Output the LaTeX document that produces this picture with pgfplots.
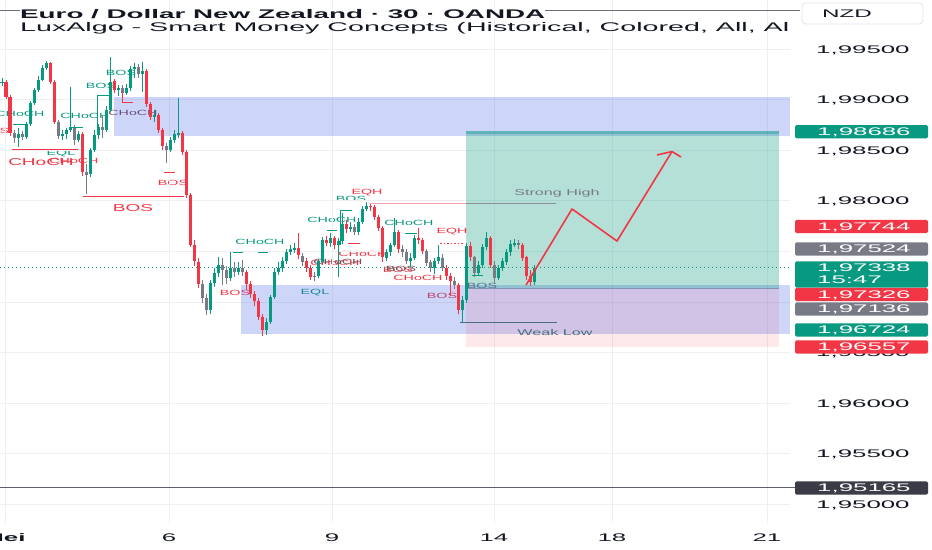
\documentclass[border=0pt]{standalone}
\usepackage{pgfplots}
\pgfplotsset{compat=1.18}
\usepackage{pgfplotstable}
\usepackage{graphicx}
\usepackage{fontspec}
\setmainfont{Liberation Sans}

\definecolor{tvgreen}{HTML}{089981}
\definecolor{tvred}{HTML}{F23645}
\definecolor{tvgray}{HTML}{787B86}
\definecolor{tvdark}{HTML}{131722}
\definecolor{zoneblue}{HTML}{3F5FE8}
\definecolor{gridc}{HTML}{EFEFF2}
\definecolor{smcdark}{HTML}{7A4A55}
\definecolor{weakc}{HTML}{4A6F7F}
\definecolor{pinkline}{HTML}{F5A3AB}
\definecolor{shline}{HTML}{8A8D96}
\definecolor{entryc}{HTML}{8093B5}
\definecolor{topline}{HTML}{6A6D78}
\definecolor{lowline}{HTML}{5D606B}
\definecolor{darkbox}{HTML}{3A3D47}
\definecolor{nzdbox}{HTML}{E0E3EB}
\definecolor{bosgray}{HTML}{5A6E8C}

\newcommand{\pf}{\fontsize{11bp}{13bp}\selectfont}
\newcommand{\smcS}{\fontsize{7.5bp}{9bp}\selectfont}
\newcommand{\smcL}{\fontsize{10bp}{12bp}\selectfont}
\newcommand{\sx}[1]{\scalebox{2.35}[1]{#1}}
\newcommand{\lab}[5]{\node[text=#3,inner sep=0pt,anchor=center,font=#5] at (#1,#2) {\scalebox{1.9}[1]{#4}};}
\newcommand{\ptick}[2]{\node[anchor=base west,inner sep=0pt,text=tvdark,font=\pf] at (816,{#1+4}) {\sx{#2}};}
\newcommand{\pricebox}[3]{%
  \fill[#2,rounded corners=1.5bp] (795,{#1-6.6}) rectangle (928,{#1+6.7});
  \node[anchor=base west,inner sep=0pt,text=white,font=\pf] at (817,{#1+4}) {\sx{#3}};}
\tikzset{px/.style={x=1bp,y=-1bp,yshift=523bp}}

\newcommand{\candles}[2]{%
  \addplot[only marks, mark=none, mark size=0pt, mark options={draw=none,fill=none}, forget plot,
    error bars/.cd, y dir=both, y explicit, error mark=none,
    error bar style={draw=#2, line width=0.9bp}]
    table[x=x, y expr={(\thisrow{h}+\thisrow{l})/2}, y error expr={(\thisrow{h}-\thisrow{l})/2}] {#1};
  \addplot[only marks, mark=none, mark size=0pt, mark options={draw=none,fill=none}, forget plot,
    error bars/.cd, y dir=both, y explicit, error mark=none,
    error bar style={draw=#2, line width=3bp}]
    table[x=x, y expr={(\thisrow{o}+\thisrow{c})/2}, y error expr={abs(\thisrow{o}-\thisrow{c})/2}] {#1};
}

\pgfplotstableread{
x o h l c
2 1.9917 1.9922 1.9914 1.9918
18 1.9862 1.9872 1.9853 1.9866
26 1.9863 1.9878 1.9861 1.9876
30 1.9876 1.9899 1.9874 1.9897
34 1.9897 1.9912 1.9895 1.9910
38 1.9910 1.9923 1.9908 1.9920
42 1.9920 1.9934 1.9918 1.9931
46 1.9931 1.9938 1.9929 1.9936
62 1.9864 1.9870 1.9860 1.9866
66 1.9866 1.9872 1.9861 1.9870
70 1.9870 1.9913 1.9868 1.9873
78 1.9860 1.9869 1.9858 1.9866
90 1.9826 1.9852 1.9824 1.9850
94 1.9850 1.9870 1.9848 1.9865
98 1.9865 1.9876 1.9861 1.9873
106 1.9870 1.9894 1.9868 1.9890
110 1.9890 1.9942 1.9888 1.9918
118 1.9910 1.9915 1.9904 1.9912
126 1.9907 1.9916 1.9905 1.9912
130 1.9912 1.9933 1.9909 1.9930
134 1.9930 1.9936 1.9922 1.9932
142 1.9925 1.9937 1.9908 1.9928
154 1.9883 1.9890 1.9878 1.9885
170 1.9850 1.9863 1.9848 1.9860
174 1.9860 1.9870 1.9857 1.9866
178 1.9866 1.9902 1.9862 1.9867
210 1.9692 1.9722 1.9688 1.9719
214 1.9719 1.9734 1.9715 1.9729
218 1.9729 1.9744 1.9725 1.9737
230 1.9724 1.9749 1.9721 1.9734
238 1.9730 1.9740 1.9727 1.9734
266 1.9672 1.9684 1.9667 1.9680
270 1.9680 1.9707 1.9678 1.9705
274 1.9705 1.9734 1.9703 1.9730
278 1.9730 1.9739 1.9727 1.9734
282 1.9734 1.9745 1.9730 1.9741
286 1.9741 1.9752 1.9738 1.9749
290 1.9749 1.9756 1.9746 1.9752
294 1.9752 1.9758 1.9748 1.9753
318 1.9726 1.9743 1.9724 1.9740
322 1.9740 1.9764 1.9738 1.9761
330 1.9758 1.9768 1.9754 1.9763
338 1.9756 1.9763 1.9725 1.9760
342 1.9760 1.9788 1.9757 1.9777
350 1.9772 1.9779 1.9769 1.9774
358 1.9769 1.9783 1.9766 1.9779
362 1.9779 1.9795 1.9777 1.9792
366 1.9792 1.9799 1.9790 1.9795
386 1.9744 1.9752 1.9740 1.9749
390 1.9749 1.9758 1.9746 1.9756
394 1.9756 1.9783 1.9754 1.9769
410 1.9741 1.9748 1.9735 1.9744
414 1.9744 1.9766 1.9742 1.9763
434 1.9734 1.9744 1.9728 1.9740
438 1.9740 1.9756 1.9738 1.9744
462 1.9692 1.9706 1.9679 1.9702
466 1.9702 1.9758 1.9699 1.9755
478 1.9729 1.9740 1.9726 1.9737
482 1.9737 1.9757 1.9734 1.9754
486 1.9754 1.9769 1.9751 1.9763
498 1.9724 1.9737 1.9722 1.9734
502 1.9734 1.9744 1.9731 1.9740
506 1.9740 1.9752 1.9737 1.9749
510 1.9749 1.9761 1.9746 1.9757
514 1.9757 1.9762 1.9754 1.9758
534 1.9720 1.9737 1.9717 1.9734
}\greenT

\pgfplotstableread{
x o h l c
6 1.9918 1.9920 1.9901 1.9903
10 1.9903 1.9905 1.9864 1.9867
50 1.9936 1.9937 1.9915 1.9917
54 1.9917 1.9919 1.9876 1.9878
82 1.9866 1.9868 1.9825 1.9829
114 1.9918 1.9920 1.9907 1.9910
146 1.9928 1.9930 1.9893 1.9896
150 1.9896 1.9898 1.9880 1.9883
158 1.9885 1.9887 1.9867 1.9870
162 1.9870 1.9872 1.9850 1.9854
182 1.9867 1.9869 1.9845 1.9848
186 1.9848 1.9850 1.9803 1.9806
190 1.9806 1.9808 1.9754 1.9756
194 1.9756 1.9761 1.9736 1.9740
198 1.9740 1.9744 1.9714 1.9718
246 1.9730 1.9732 1.9712 1.9718
250 1.9718 1.9721 1.9704 1.9708
254 1.9708 1.9711 1.9696 1.9701
258 1.9701 1.9704 1.9682 1.9685
262 1.9685 1.9688 1.9666 1.9672
298 1.9753 1.9768 1.9742 1.9746
306 1.9740 1.9743 1.9730 1.9734
310 1.9734 1.9737 1.9722 1.9725
326 1.9761 1.9765 1.9755 1.9758
334 1.9763 1.9765 1.9752 1.9756
346 1.9777 1.9781 1.9768 1.9772
370 1.9795 1.9798 1.9790 1.9794
374 1.9794 1.9796 1.9781 1.9784
378 1.9784 1.9786 1.9770 1.9773
382 1.9773 1.9775 1.9739 1.9744
398 1.9769 1.9771 1.9748 1.9752
418 1.9763 1.9773 1.9757 1.9761
422 1.9761 1.9763 1.9747 1.9750
446 1.9734 1.9737 1.9722 1.9726
450 1.9726 1.9729 1.9706 1.9721
458 1.9717 1.9719 1.9688 1.9692
470 1.9755 1.9759 1.9740 1.9744
490 1.9763 1.9765 1.9734 1.9737
522 1.9756 1.9758 1.9740 1.9744
526 1.9744 1.9746 1.9722 1.9726
530 1.9726 1.9732 1.9716 1.9720
}\redT

\pgfplotstableread{
x o h l c
14 1.9867 1.9870 1.9857 1.9862
22 1.9866 1.9869 1.9860 1.9863
58 1.9878 1.9880 1.9861 1.9864
74 1.9873 1.9875 1.9855 1.9860
86 1.9829 1.9836 1.9807 1.9826
102 1.9873 1.9885 1.9862 1.9870
122 1.9912 1.9915 1.9903 1.9907
138 1.9932 1.9935 1.9921 1.9925
166 1.9854 1.9857 1.9837 1.9850
202 1.9718 1.9722 1.9699 1.9704
206 1.9704 1.9708 1.9687 1.9692
222 1.9737 1.9744 1.9717 1.9732
226 1.9732 1.9736 1.9718 1.9724
234 1.9734 1.9740 1.9725 1.9730
242 1.9734 1.9742 1.9726 1.9730
302 1.9746 1.9748 1.9736 1.9740
314 1.9725 1.9730 1.9721 1.9726
354 1.9774 1.9777 1.9766 1.9769
402 1.9752 1.9756 1.9745 1.9749
406 1.9749 1.9752 1.9738 1.9741
426 1.9750 1.9752 1.9736 1.9739
430 1.9739 1.9742 1.9730 1.9734
442 1.9744 1.9747 1.9731 1.9734
454 1.9721 1.9725 1.9713 1.9717
474 1.9744 1.9746 1.9725 1.9729
494 1.9737 1.9740 1.9719 1.9724
518 1.9758 1.9761 1.9752 1.9756
}\grayT

\begin{document}
\begin{tikzpicture}
\path[use as bounding box, fill=white] (0,-27bp) rectangle (932bp,523bp);

% SMC labels, under the candles
\begin{scope}[px]
\lab{20}{114}{tvgreen}{CHoCH}{\smcS}
\lab{-6}{131}{tvred}{BOS}{\smcS}
\lab{61}{154}{tvgreen}{EQL}{\smcS}
\lab{41}{162}{tvred}{CHoCH}{\smcL}
\lab{74}{161}{tvred}{CHoCH}{\smcS}
\lab{85}{116}{tvgreen}{CHoCH}{\smcS}
\lab{133}{113}{smcdark}{CHoCH}{\smcS}
\lab{121}{73}{tvgreen}{BOS}{\smcS}
\lab{101}{86}{tvgreen}{BOS}{\smcS}
\lab{133}{208}{tvred}{BOS}{\smcL}
\lab{173}{183}{tvred}{BOS}{\smcS}
\lab{260}{242}{tvgreen}{CHoCH}{\smcS}
\lab{235}{293}{tvred}{BOS}{\smcS}
\lab{315}{293}{tvgreen}{EQL}{\smcS}
\lab{332}{220}{tvgreen}{CHoCH}{\smcS}
\lab{351}{199}{tvgreen}{BOS}{\smcS}
\lab{367}{193}{tvred}{EQH}{\smcS}
\lab{409}{223}{tvgreen}{CHoCH}{\smcS}
\lab{363}{254}{tvred}{CHoCH}{\smcS}
\lab{335}{263}{tvred}{CHoCH}{\smcS}
\lab{338}{262}{smcdark}{CHoCH}{\smcS}
\lab{398}{270}{tvred}{BOS}{\smcS}
\lab{401}{269}{smcdark}{BOS}{\smcS}
\lab{418}{278}{tvred}{CHoCH}{\smcS}
\lab{452}{232}{tvred}{EQH}{\smcS}
\lab{442}{296}{tvred}{BOS}{\smcS}
\end{scope}

\begin{axis}[
  at={(0,0)}, anchor=south west,
  scale only axis, width=790bp, height=523bp,
  xmin=0, xmax=790, ymin=1.94814, ymax=1.999855,
  clip=false,
  axis line style={draw=none},
  major tick length=0pt,
  xtick={5,169,332,494,612,767},
  ytick={1.95,1.955,1.96,1.965,1.97,1.975,1.98,1.985,1.99,1.995},
  xticklabels={}, yticklabels={},
  xmajorgrids, ymajorgrids,
  major grid style={draw=gridc, line width=0.8bp},
]
% order blocks and position tool
\fill[zoneblue, fill opacity=0.26] (axis cs:114,1.98641) rectangle (axis cs:790,1.99026);
\fill[zoneblue, fill opacity=0.26] (axis cs:241,1.96683) rectangle (axis cs:790,1.97167);
\fill[tvgreen, fill opacity=0.3] (axis cs:466,1.97136) rectangle (axis cs:779,1.98686);
\fill[tvred, fill opacity=0.11] (axis cs:466,1.96557) rectangle (axis cs:779,1.97136);
\draw[tvgreen, draw opacity=0.35, line width=2.2bp] (axis cs:466,1.98675) -- (axis cs:779,1.98675);
\draw[entryc, line width=1.1bp] (axis cs:466,1.97136) -- (axis cs:779,1.97136);
\draw[tvgreen, line width=0.8bp, dash pattern=on 1bp off 3bp] (axis cs:0,1.97338) -- (axis cs:790,1.97338);
\draw[lowline, line width=1bp] (axis cs:0,1.95165) -- (axis cs:795,1.95165);

% candles
\candles{\grayT}{tvgray}
\candles{\redT}{tvred}
\candles{\greenT}{tvgreen}

% structure lines
\draw[tvred, line width=0.9bp] (axis cs:12,1.98512) -- (axis cs:78,1.98512);
\draw[tvred, line width=0.9bp] (axis cs:83,1.98047) -- (axis cs:184,1.98047);
\draw[tvred, line width=0.9bp] (axis cs:164,1.98285) -- (axis cs:175,1.98285);
\draw[tvred, line width=0.9bp] (axis cs:122,1.99076) -- (axis cs:122,1.98977) -- (axis cs:133,1.98977);
\draw[tvgreen, line width=0.9bp] (axis cs:13,1.98759) -- (axis cs:27,1.98759);
\draw[tvgreen, line width=0.9bp] (axis cs:72,1.98730) -- (axis cs:83,1.98730);
\draw[tvgreen, line width=0.9bp] (axis cs:97,1.98730) -- (axis cs:97,1.99046) -- (axis cs:110,1.99046);
\draw[tvgreen, line width=0.9bp] (axis cs:233,1.97494) -- (axis cs:243,1.97494);
\draw[tvgreen, line width=0.9bp] (axis cs:258,1.97494) -- (axis cs:268,1.97494);
\draw[tvgreen, line width=0.9bp] (axis cs:327,1.97711) -- (axis cs:337,1.97711);
\draw[tvgreen, line width=0.9bp] (axis cs:340,1.97563) -- (axis cs:340,1.97909) -- (axis cs:352,1.97909);
\draw[tvgreen, line width=0.9bp] (axis cs:405,1.97682) -- (axis cs:417,1.97682);
\draw[tvgreen, line width=0.9bp] (axis cs:472,1.97266) -- (axis cs:483,1.97266);
\draw[tvred, line width=0.9bp] (axis cs:348,1.97583) -- (axis cs:360,1.97583);
\draw[tvred, line width=0.9bp, dash pattern=on 1.5bp off 2bp] (axis cs:440,1.97583) -- (axis cs:463,1.97583);
\draw[pinkline, line width=1bp] (axis cs:370,1.97973) -- (axis cs:466,1.97973);
\draw[shline, line width=1bp] (axis cs:466,1.97973) -- (axis cs:556,1.97973);
\draw[weakc, line width=1bp] (axis cs:460,1.96792) -- (axis cs:557,1.96792);

% projected path
\draw[tvred, line width=1.6bp, line join=round] (axis cs:526,1.97167) -- (axis cs:572,1.97919) -- (axis cs:617,1.97602) -- (axis cs:672,1.98487);
\draw[tvred, line width=1.6bp, line join=round] (axis cs:657,1.98453) -- (axis cs:672,1.98487) -- (axis cs:681,1.98433);
\end{axis}

\begin{scope}[px]
% header
\draw[topline, line width=0.9bp] (0,10.5) -- (800,10.5);
\node[anchor=base west, inner sep=0pt, fill=white, text=tvdark] at (20,18.3)
  {\resizebox{525bp}{\height}{\fontsize{12.5bp}{14bp}\selectfont\bfseries Euro / Dollar New Zealand · 30 · OANDA}};
\node[anchor=base west, inner sep=0pt, text=tvdark] at (20,31.5)
  {\resizebox{769bp}{\height}{\fontsize{12.5bp}{14bp}\selectfont LuxAlgo - Smart Money Concepts (Historical, Colored, All, Al}};
\draw[nzdbox, line width=0.8bp, rounded corners=4bp] (802,3) rectangle (923,24);
\node[anchor=base, inner sep=0pt, font=\pf, text=tvdark] at (847,18) {\scalebox{2.2}[1]{NZD}};

% labels over the position tool
\lab{482}{286}{bosgray}{BOS}{\smcS}
\node[anchor=base, inner sep=0pt, font=\fontsize{8.5bp}{10bp}\selectfont, text=tvgray] at (557,196) {\scalebox{1.9}[1]{Strong High}};
\node[anchor=base, inner sep=0pt, font=\fontsize{8.5bp}{10bp}\selectfont, text=weakc] at (555,336) {\scalebox{1.9}[1]{Weak Low}};

% price scale
\ptick{49.1}{1,99500}
\ptick{99.7}{1,99000}
\ptick{150.2}{1,98500}
\ptick{200.8}{1,98000}
\ptick{352.5}{1,96500}
\ptick{403.1}{1,96000}
\ptick{453.7}{1,95500}
\ptick{504.2}{1,95000}
\pricebox{131.8}{tvgreen}{1,98686}
\pricebox{226.5}{tvred}{1,97744}
\pricebox{249}{tvgray}{1,97524}
\fill[tvgreen,rounded corners=1.5bp] (795,261.4) rectangle (928,287.7);
\node[anchor=base west,inner sep=0pt,text=white,font=\pf] at (817,272) {\sx{1,97338}};
\node[anchor=base west,inner sep=0pt,text=white,font=\pf] at (817,284) {\sx{15:47}};
\pricebox{294.5}{tvred}{1,97326}
\pricebox{309}{tvgray}{1,97136}
\pricebox{330}{tvgreen}{1,96724}
\pricebox{347}{tvred}{1,96557}
\pricebox{488}{darkbox}{1,95165}

% time scale
\node[anchor=base, inner sep=0pt, font=\pf\bfseries, text=tvdark] at (4,542) {\sx{Mei}};
\node[anchor=base, inner sep=0pt, font=\pf, text=tvdark] at (169,542) {\sx{6}};
\node[anchor=base, inner sep=0pt, font=\pf, text=tvdark] at (332,542) {\sx{9}};
\node[anchor=base, inner sep=0pt, font=\pf, text=tvdark] at (494,542) {\sx{14}};
\node[anchor=base, inner sep=0pt, font=\pf, text=tvdark] at (612,542) {\sx{18}};
\node[anchor=base, inner sep=0pt, font=\pf, text=tvdark] at (767,542) {\sx{21}};
\end{scope}
\end{tikzpicture}
\end{document}
